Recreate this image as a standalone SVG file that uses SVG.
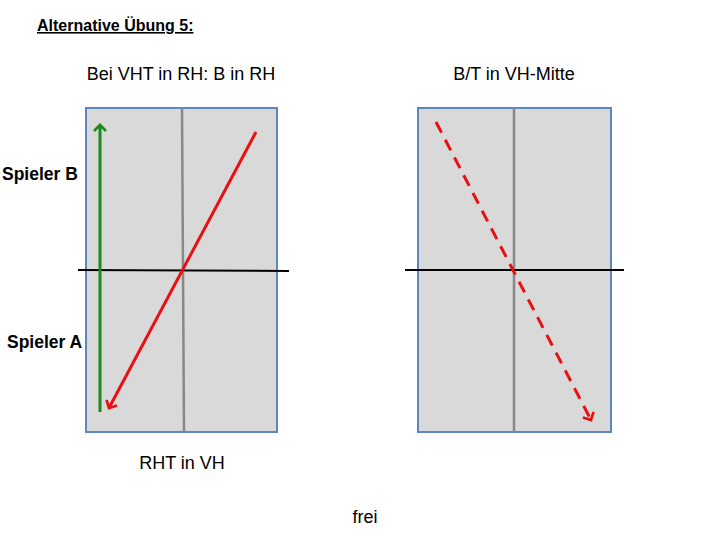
<svg xmlns="http://www.w3.org/2000/svg" width="720" height="540" viewBox="0 0 720 540">
<style>
text{font-family:"Liberation Sans",Arial,sans-serif;fill:#000}
.lbl{font-size:18px}
.b{font-weight:bold;font-size:17.5px}
.table{fill:#d9d9d9;stroke:#5b86c2;stroke-width:2}
.mid{stroke:#888;stroke-width:2.5;fill:none}
.net{stroke:#000;stroke-width:2;fill:none}
</style>
<defs>
<marker id="ag" viewBox="0 0 10 10" refX="5" refY="5" markerWidth="5" markerHeight="5" orient="auto" markerUnits="strokeWidth"><path d="M1,1 L5,5 L1,9" fill="none" stroke="#1a8a1a" stroke-width="1.8"/></marker>
<marker id="ar" viewBox="0 0 10 10" refX="5" refY="5" markerWidth="5" markerHeight="5" orient="auto" markerUnits="strokeWidth"><path d="M1,1 L5,5 L1,9" fill="none" stroke="#e81010" stroke-width="1.8"/></marker>
</defs>
<text x="37" y="31" style="font-size:16px;font-weight:bold;text-decoration:underline">Alternative Übung 5:</text>
<g id="table-left">
<rect class="table" x="86" y="108" width="191" height="324"/>
<line class="mid" x1="182" y1="108" x2="184" y2="432"/>
<line class="net" x1="78" y1="270" x2="289" y2="271"/>
</g>
<g id="table-right">
<rect class="table" x="418" y="108" width="193" height="324"/>
<line class="mid" x1="514" y1="108" x2="514" y2="432"/>
<line class="net" x1="405" y1="270" x2="624" y2="270"/>
</g>
<g id="connectors">
<line x1="100" y1="412" x2="100" y2="125" stroke="#1a8a1a" stroke-width="3" marker-end="url(#ag)"/>
<line x1="256" y1="132" x2="109" y2="408" stroke="#e81010" stroke-width="3" marker-end="url(#ar)"/>
<line x1="436" y1="122" x2="591" y2="420" stroke="#e81010" stroke-width="3" stroke-dasharray="12,8" marker-end="url(#ar)"/>
</g>
<text class="lbl" x="181" y="80" text-anchor="middle">Bei VHT in RH: B in RH</text>
<text class="lbl" x="514" y="80" text-anchor="middle">B/T in VH-Mitte</text>
<text class="b" x="2" y="180">Spieler B</text>
<text class="b" x="7" y="348">Spieler A</text>
<text class="lbl" x="182" y="469" text-anchor="middle">RHT in VH</text>
<text class="lbl" x="365" y="523" text-anchor="middle">frei</text>
</svg>
